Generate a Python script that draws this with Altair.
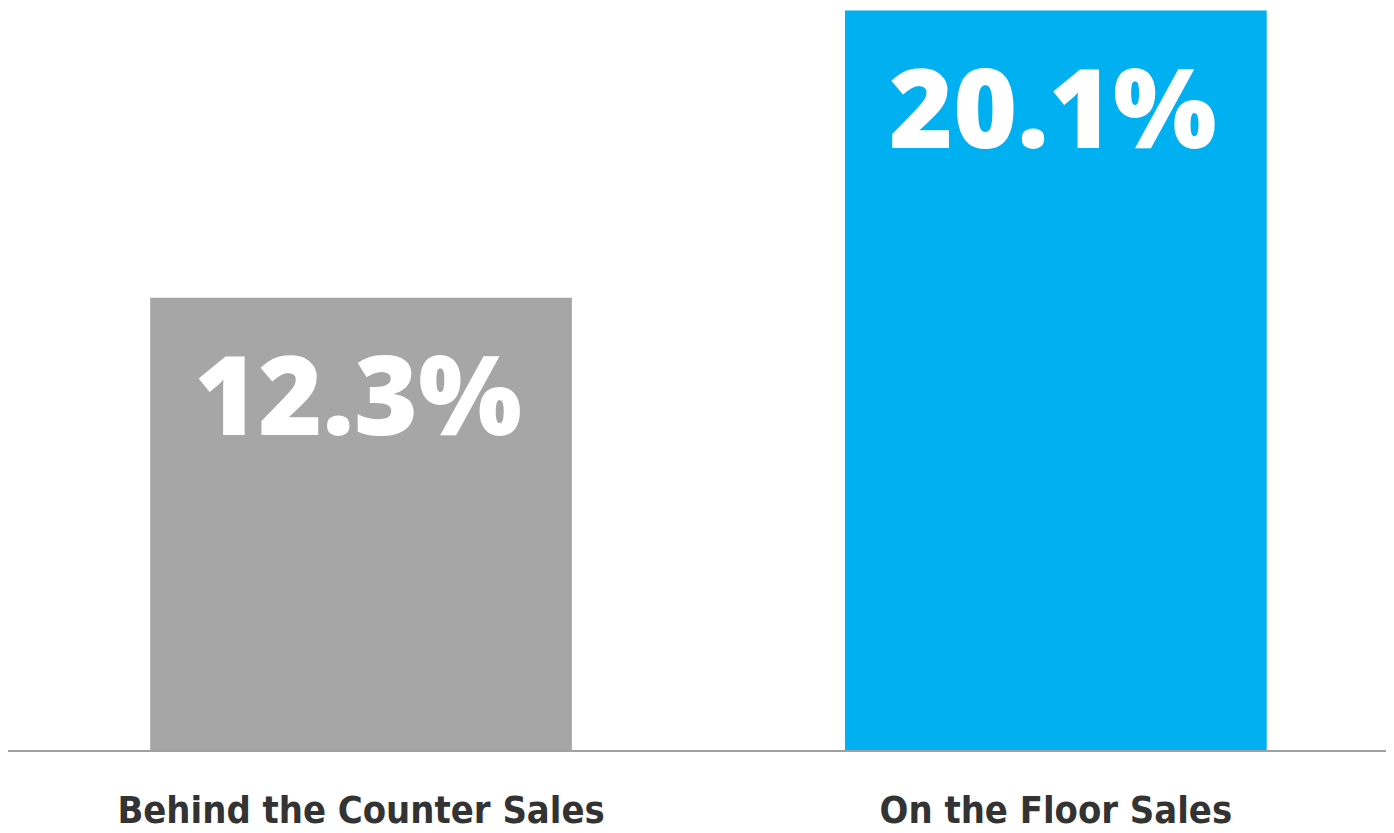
import altair as alt
import pandas as pd

categories = ["Behind the Counter Sales", "On the Floor Sales"]
values = [12.3, 20.1]
labels = ["12.3%", "20.1%"]
colors = ["#a6a6a6", "#00b0f0"]

df = pd.DataFrame({"category": categories, "value": values, "label": labels, "color": colors})

x = alt.X(
    "category:N",
    sort=categories,
    title=None,
    scale=alt.Scale(range=[143, 1266], paddingInner=0.393, paddingOuter=0),
    axis=alt.Axis(
        ticks=False,
        domain=False,
        labelAngle=0,
        labelPadding=72,
        labelBaseline="alphabetic",
        labelFont="DejaVu Sans Condensed",
        labelFontWeight="bold",
        labelFontSize=38,
        labelColor="#333333",
        labelLimit=0,
    ),
)
y = alt.Y("value:Q", title=None, scale=alt.Scale(domain=[0, 20.1], nice=False, zero=True), axis=None)

bars = alt.Chart(df).mark_bar().encode(
    x=x, y=y, color=alt.Color("color:N", scale=None)
)

text = alt.Chart(df).mark_text(
    font="Open Sans",
    fontWeight=800,
    fontSize=110,
    color="white",
    baseline="alphabetic",
    align="center",
    dx=-3,
    dy=138,
).encode(x=x, y=y, text="label:N")

base = alt.Chart(pd.DataFrame({"v": [0]})).mark_rule(color="#a0a0a0", strokeWidth=2).encode(
    y=alt.Y("v:Q", scale=alt.Scale(domain=[0, 20.1], nice=False), axis=None)
)

chart = alt.layer(bars, text, base).properties(
    width=1386,
    height=745,
    padding={"left": 0, "top": 0, "right": 0, "bottom": 80},
    autosize=alt.AutoSizeParams(type="none"),
).configure_view(stroke=None)

chart.save("out.html", embed_options={"renderer": "svg", "actions": False})
